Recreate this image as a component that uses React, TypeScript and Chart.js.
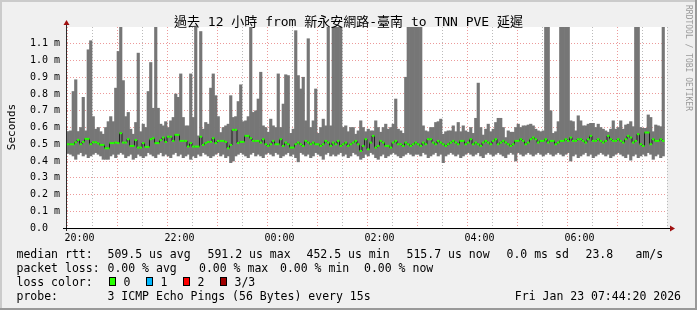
import { useEffect, useRef } from "react";
import { Chart, registerables } from "chart.js";
Chart.register(...registerables);

// time axis: minutes after 19:00, bins of 3 minutes starting at 19:45
const binStartMinute = 45;
const binMinutes = 3;

const maxRtt = [
  0.576,0.58,0.815,0.885,0.576,0.6,0.78,0.58,1.064,1.118,
  0.665,0.59,0.6,0.575,0.56,0.6,0.635,0.665,0.635,0.835,
  1.054,1.3,0.88,0.665,0.69,0.59,0.56,0.63,1.044,0.575,
  0.62,0.6,0.815,0.988,0.715,1.3,0.715,0.62,0.61,0.635,
  0.6,0.64,0.66,0.8,0.78,0.92,0.66,0.61,0.61,0.92,
  0.66,1.3,0.55,1.173,0.59,0.63,0.62,0.835,0.92,0.79,
  0.665,0.57,0.6,0.61,0.62,0.79,0.66,0.665,0.755,0.855,
  0.635,0.64,0.665,1.3,0.69,0.7,0.77,0.93,0.61,0.6,
  0.572,0.65,0.61,0.6,0.92,0.6,0.74,0.915,0.91,0.565,
  0.59,1.178,0.91,0.83,0.9,0.64,1.13,0.6,0.64,0.83,
  0.565,0.6,0.65,0.61,1.3,0.61,1.3,1.3,1.3,1.3,
  0.6,0.61,0.575,0.6,0.6,0.56,0.58,0.64,0.6,0.575,
  0.59,0.58,0.58,0.64,0.6,0.572,0.6,0.62,0.59,0.6,
  0.62,0.77,0.59,0.58,0.565,0.9,1.3,1.3,1.3,1.3,
  1.3,1.3,0.61,0.58,0.575,0.6,0.6,0.63,0.635,0.65,
  0.56,0.575,0.58,0.58,0.61,0.575,0.63,0.575,0.61,0.58,
  0.572,0.6,0.565,0.655,0.865,0.6,0.555,0.59,0.62,0.575,
  0.59,0.63,0.655,0.655,0.6,0.54,0.58,0.572,0.572,0.6,
  0.62,0.6,0.61,0.61,0.615,0.62,0.61,0.59,0.58,0.575,
  0.58,1.3,1.3,0.7,0.565,0.575,0.635,1.3,1.3,1.3,
  1.3,0.64,0.635,0.58,0.67,0.64,0.61,0.61,0.62,0.625,
  0.625,0.6,0.62,0.6,0.59,0.58,0.572,0.59,0.64,0.59,
  0.6,0.64,0.59,0.615,0.62,0.635,0.605,1.3,1.3,0.6,
  0.595,0.595,0.675,0.66,0.575,0.615,0.61,0.605,1.3,null,
];

const minRtt = [
  0.445,0.44,0.43,0.41,0.44,0.45,0.43,0.44,0.42,0.43,
  0.44,0.45,0.44,0.43,0.41,0.41,0.41,0.43,0.44,0.42,
  0.44,0.45,0.44,0.42,0.43,0.44,0.41,0.42,0.44,0.43,
  0.42,0.43,0.45,0.44,0.43,0.42,0.44,0.45,0.43,0.44,
  0.43,0.42,0.44,0.45,0.43,0.44,0.42,0.43,0.44,0.41,
  0.43,0.42,0.44,0.43,0.45,0.44,0.43,0.42,0.43,0.44,
  0.45,0.43,0.44,0.42,0.43,0.39,0.40,0.43,0.44,0.45,
  0.44,0.43,0.42,0.44,0.45,0.43,0.44,0.43,0.42,0.44,
  0.45,0.44,0.43,0.45,0.44,0.42,0.43,0.44,0.45,0.43,
  0.44,0.42,0.395,0.45,0.44,0.43,0.44,0.42,0.43,0.45,
  0.44,0.43,0.41,0.44,0.45,0.43,0.44,0.43,0.44,0.45,
  0.43,0.44,0.42,0.43,0.45,0.44,0.43,0.41,0.42,0.44,
  0.43,0.45,0.44,0.42,0.41,0.43,0.44,0.42,0.43,0.44,
  0.45,0.44,0.43,0.42,0.43,0.44,0.45,0.44,0.43,0.44,
  0.44,0.43,0.45,0.44,0.42,0.43,0.44,0.45,0.43,0.44,
  0.39,0.43,0.44,0.45,0.44,0.43,0.44,0.42,0.43,0.44,
  0.45,0.44,0.43,0.44,0.45,0.43,0.42,0.44,0.45,0.44,
  0.43,0.44,0.45,0.44,0.43,0.42,0.44,0.45,0.44,0.40,
  0.45,0.44,0.43,0.44,0.45,0.44,0.43,0.44,0.45,0.44,
  0.43,0.44,0.45,0.44,0.43,0.44,0.45,0.44,0.43,0.44,
  0.45,0.40,0.43,0.44,0.42,0.43,0.44,0.45,0.43,0.44,
  0.42,0.43,0.44,0.45,0.44,0.43,0.44,0.42,0.43,0.44,
  0.45,0.44,0.43,0.42,0.44,0.405,0.43,0.44,0.42,0.43,
  0.44,0.43,0.45,0.44,0.41,0.43,0.44,0.42,0.43,null,
];

const medianRtt = [
  0.50,0.50,0.50,0.512,0.526,0.50,0.514,0.532,0.532,0.50,
  0.512,0.512,0.505,0.496,0.496,0.476,0.476,0.507,0.507,0.51,
  0.507,0.566,0.51,0.51,0.53,0.49,0.49,0.525,0.48,0.48,
  0.507,0.484,0.484,0.53,0.536,0.507,0.507,0.525,0.54,0.514,
  0.545,0.545,0.52,0.556,0.556,0.52,0.52,0.52,0.486,0.507,
  0.486,0.486,0.486,0.545,0.496,0.507,0.514,0.514,0.536,0.507,
  0.52,0.52,0.52,0.514,0.476,0.496,0.586,0.586,0.507,0.514,
  0.514,0.55,0.55,0.536,0.52,0.52,0.52,0.51,0.53,0.50,
  0.49,0.50,0.52,0.50,0.50,0.53,0.49,0.51,0.50,0.48,
  0.48,0.50,0.51,0.50,0.49,0.52,0.51,0.50,0.51,0.50,
  0.50,0.49,0.50,0.52,0.51,0.49,0.51,0.50,0.52,0.49,
  0.50,0.51,0.49,0.50,0.51,0.52,0.50,0.46,0.49,0.53,
  0.47,0.51,0.55,0.48,0.49,0.52,0.51,0.49,0.49,0.48,
  0.51,0.52,0.50,0.50,0.49,0.51,0.50,0.49,0.50,0.51,
  0.50,0.49,0.51,0.50,0.53,0.53,0.51,0.50,0.52,0.51,
  0.50,0.49,0.50,0.51,0.52,0.51,0.50,0.52,0.52,0.50,
  0.51,0.53,0.50,0.51,0.50,0.49,0.51,0.52,0.51,0.50,
  0.52,0.53,0.50,0.51,0.52,0.51,0.50,0.49,0.50,0.52,
  0.52,0.53,0.52,0.50,0.51,0.53,0.54,0.53,0.51,0.52,
  0.52,0.53,0.51,0.52,0.52,0.50,0.51,0.52,0.52,0.53,
  0.52,0.54,0.52,0.52,0.53,0.53,0.52,0.51,0.53,0.55,
  0.52,0.52,0.53,0.52,0.51,0.52,0.55,0.53,0.52,0.52,
  0.53,0.52,0.51,0.53,0.55,0.54,0.51,0.52,0.56,0.50,
  0.49,0.57,0.57,0.50,0.53,0.52,0.52,0.53,0.52,null,
];

const xTickLabels = ["20:00", "22:00", "00:00", "02:00", "04:00", "06:00"];
const yTickValues = [0, 0.1, 0.2, 0.3, 0.4, 0.5, 0.6, 0.7, 0.8, 0.9, 1.0, 1.1];
const yTickLabels = ["0.0  ", "0.1 m", "0.2 m", "0.3 m", "0.4 m", "0.5 m", "0.6 m", "0.7 m", "0.8 m", "0.9 m", "1.0 m", "1.1 m"];

const titleText = "過去 12 小時 from 新永安網路-臺南 to TNN PVE 延遲";
const yAxisTitle = "Seconds";
const sideText = "RRDTOOL / TOBI OETIKER";

const legendRow1: [string, number][] = [
  ["median rtt:", 16.5], ["509.5 us avg", 107.5], ["591.2 us max", 207.5], ["452.5 us min", 306.5],
  ["515.7 us now", 406.5], ["0.0 ms sd", 506.5], ["23.8", 585.5], ["am/s", 635.5],
];
const legendRow2: [string, number][] = [
  ["packet loss:", 16.5], ["0.00 % avg", 107.5], ["0.00 % max", 199], ["0.00 % min", 280], ["0.00 % now", 364],
];
const lossTitle = "loss color:";
const lossLabels = ["0", "1", "2", "3/3"];
const lossColors = ["#26ff00", "#00b8ff", "#ff0000", "#a00000"];
const probeLabel = "probe:";
const probeText = "3 ICMP Echo Pings (56 Bytes) every 15s";
const dateText = "Fri Jan 23 07:44:20 2026";

const MONO = '"DejaVu Sans Mono", "Noto Sans CJK TC", monospace';

function minuteLabel(m: number) {
  const h = (19 + Math.floor(m / 60)) % 24;
  const mm = m % 60;
  return String(h).padStart(2, "0") + ":" + String(mm).padStart(2, "0");
}

export default function App() {
  const ref = useRef<HTMLCanvasElement | null>(null);
  useEffect(() => {
    document.body.style.margin = "0";
    const canvas = ref.current!;
    const centers = maxRtt.map((_, i) => binStartMinute + binMinutes * i + binMinutes / 2);
    const smoke = centers.map((x, i) =>
      maxRtt[i] == null || minRtt[i] == null ? { x, y: null } : { x, y: [minRtt[i], maxRtt[i]] }
    );
    const med = centers.map((x, i) => ({ x, y: medianRtt[i] }));
    const gridMinutes: number[] = [];
    for (let m = 60; m < 765; m += 30) gridMinutes.push(m);

    const framePlugin = {
      id: "frame",
      beforeDraw(chart: any) {
        const { ctx, chartArea: a } = chart;
        ctx.save();
        ctx.fillStyle = "#f0f0f0";
        ctx.fillRect(0, 0, 697, 310);
        ctx.fillStyle = "#cbcbcb";
        ctx.fillRect(0, 0, 697, 2);
        ctx.fillRect(0, 0, 2, 310);
        ctx.fillStyle = "#999999";
        ctx.fillRect(0, 308, 697, 2);
        ctx.fillRect(695, 0, 2, 310);
        ctx.fillStyle = "#ffffff";
        ctx.fillRect(a.left, a.top, a.right - a.left, a.bottom - a.top);
        ctx.restore();
      },
      afterDraw(chart: any) {
        const { ctx, chartArea: a } = chart;
        ctx.save();
        ctx.strokeStyle = "#2c2c2c";
        ctx.lineWidth = 1;
        ctx.beginPath();
        ctx.moveTo(a.left - 0.5, a.bottom + 3);
        ctx.lineTo(a.left - 0.5, 22);
        ctx.stroke();
        ctx.strokeStyle = "#000";
        ctx.beginPath();
        ctx.moveTo(a.left - 4, a.bottom + 0.5);
        ctx.lineTo(a.right + 4, a.bottom + 0.5);
        ctx.stroke();
        ctx.fillStyle = "#a01010";
        ctx.beginPath();
        ctx.moveTo(a.left - 3.5, 25);
        ctx.lineTo(a.left + 2.5, 25);
        ctx.lineTo(a.left - 0.5, 20);
        ctx.closePath();
        ctx.fill();
        ctx.beginPath();
        ctx.moveTo(a.right + 3, a.bottom - 2.5);
        ctx.lineTo(a.right + 3, a.bottom + 3.5);
        ctx.lineTo(a.right + 8, a.bottom + 0.5);
        ctx.closePath();
        ctx.fill();

        ctx.fillStyle = "#000";
        ctx.font = "13px " + MONO;
        ctx.textAlign = "center";
        ctx.textBaseline = "alphabetic";
        ctx.fillText(titleText, 348.5, 26);

        ctx.save();
        ctx.translate(14.5, 127);
        ctx.rotate(-Math.PI / 2);
        ctx.font = "11px " + MONO;
        ctx.textAlign = "center";
        ctx.fillText(yAxisTitle, 0, 0);
        ctx.restore();

        ctx.save();
        ctx.translate(686, 5);
        ctx.rotate(Math.PI / 2);
        ctx.font = "8px " + MONO;
        ctx.fillStyle = "#999";
        ctx.textAlign = "left";
        ctx.fillText(sideText, 0, 0);
        ctx.restore();

        ctx.font = "11.5px " + MONO;
        ctx.fillStyle = "#000";
        ctx.textAlign = "left";
        legendRow1.forEach(([t, x]) => ctx.fillText(t, x, 258));
        legendRow2.forEach(([t, x]) => ctx.fillText(t, x, 272));
        ctx.fillText(lossTitle, 16.5, 286);
        const boxX = [109, 146, 183, 220];
        lossLabels.forEach((l, i) => {
          ctx.fillStyle = lossColors[i];
          ctx.fillRect(boxX[i], 277, 7, 9);
          ctx.strokeStyle = "#000";
          ctx.strokeRect(boxX[i] + 0.5, 277.5, 6, 8);
          ctx.fillStyle = "#000";
          ctx.fillText(l, boxX[i] + 14.5, 286);
        });
        ctx.fillText(probeLabel, 16.5, 300);
        ctx.fillText(probeText, 107.5, 300);
        ctx.textAlign = "right";
        ctx.fillText(dateText, 681, 300);
        ctx.restore();
      },
    };

    const chart = new Chart(canvas, {
      type: "bar",
      data: {
        datasets: [
          {
            type: "line",
            data: med as any,
            showLine: false,
            pointStyle: "line",
            pointRadius: 1.25,
            pointBorderWidth: 2,
            pointBorderColor: "#26ff00",
            pointBackgroundColor: "#26ff00",
            order: 1,
          } as any,
          {
            type: "line",
            data: med as any,
            stepped: "middle",
            borderColor: "#202020",
            borderWidth: 1,
            pointRadius: 0,
            spanGaps: false,
            order: 2,
          } as any,
          {
            type: "bar",
            data: smoke as any,
            backgroundColor: "#767676",
            borderWidth: 0,
            barPercentage: 1,
            categoryPercentage: 1,
            grouped: false,
            order: 3,
          } as any,
        ],
      },
      options: {
        animation: false,
        responsive: false,
        devicePixelRatio: 1,
        layout: { padding: { left: 0, top: 27, right: 30, bottom: 0 } },
        plugins: { legend: { display: false }, tooltip: { enabled: false }, title: { display: false } },
        scales: {
          x: {
            type: "linear",
            min: 45,
            max: 765,
            offset: false,
            afterBuildTicks: (s: any) => {
              s.ticks = gridMinutes.map((v) => ({ value: v }));
            },
            afterFit: (s: any) => {
              s.height = 82;
            },
            grid: {
              drawTicks: false,
              color: (c: any) => (c.tick && c.tick.value % 60 === 0 ? "rgba(230,120,120,0.75)" : "rgba(170,170,170,0.8)"),
              lineWidth: 1,
            },
            border: { display: false, dash: [1, 2] },
            ticks: {
              autoSkip: false,
              maxRotation: 0,
              padding: 4,
              color: "#000",
              font: { family: MONO, size: 10 },
              callback: (v: any) => {
                const m = Number(v);
                if ((m - 60) % 120 !== 0) return "";
                const lab = minuteLabel(m);
                return xTickLabels.includes(lab) ? lab : "";
              },
            },
          },
          y: {
            min: 0,
            max: 1.2,
            afterBuildTicks: (s: any) => {
              s.ticks = yTickValues.map((v) => ({ value: v }));
            },
            afterFit: (s: any) => {
              s.width = 67;
            },
            grid: { drawTicks: false, color: "rgba(230,120,120,0.75)", lineWidth: 1 },
            border: { display: false, dash: [1, 2] },
            ticks: {
              padding: 7,
              color: "#000",
              font: { family: MONO, size: 10 },
              callback: (_v: any, i: number) => yTickLabels[i],
            },
          },
        },
      },
      plugins: [framePlugin],
    });
    return () => chart.destroy();
  }, []);
  return <canvas ref={ref} width={697} height={310} style={{ display: "block", width: 697, height: 310 }} />;
}
